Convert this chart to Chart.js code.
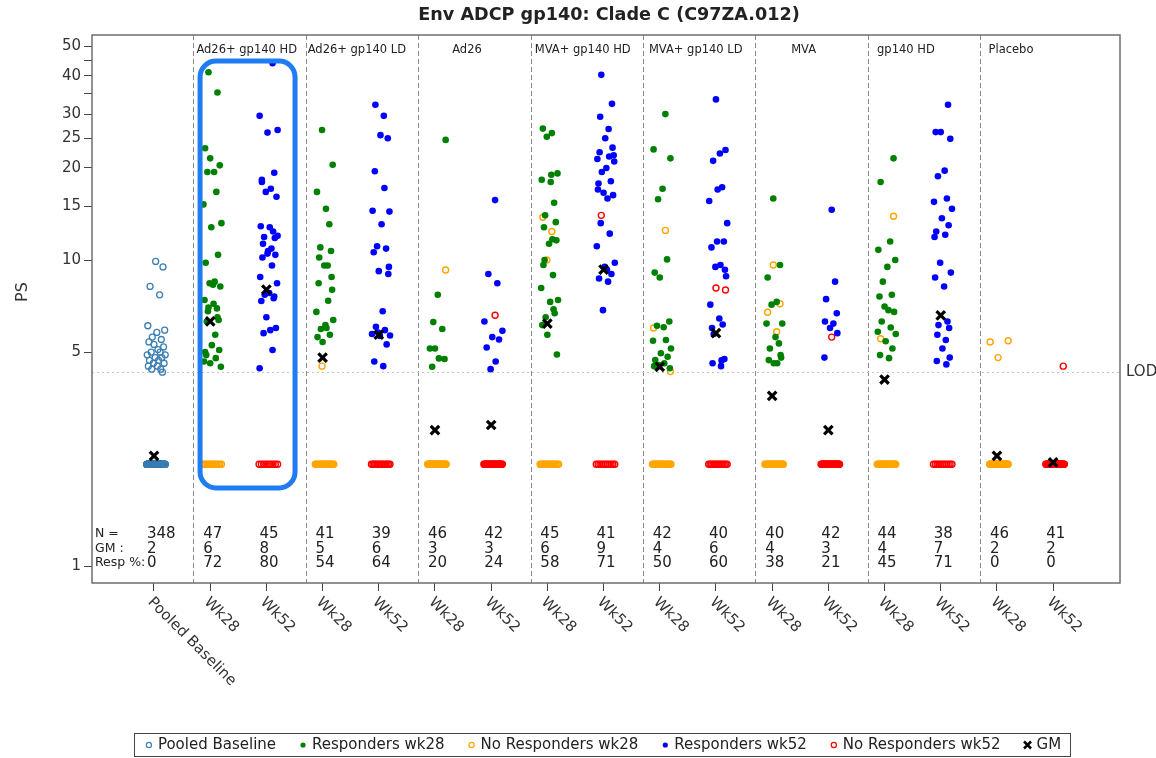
<!DOCTYPE html>
<html>
<head>
<meta charset="utf-8">
<title>Env ADCP gp140: Clade C (C97ZA.012)</title>
<script src="https://cdn.jsdelivr.net/npm/chart.js@4.4.1/dist/chart.umd.min.js"></script>
<style>
	html, body { margin: 0; padding: 0; background: #fff; }
	#wrap { width: 1156px; height: 758px; }
</style>
</head>
<body>
<div id="wrap"><canvas id="chart" width="1156" height="758"></canvas></div>
<script>
// ---- data ----
const categories = ["Pooled Baseline", "Wk28", "Wk52", "Wk28", "Wk52", "Wk28", "Wk52", "Wk28", "Wk52",
	"Wk28", "Wk52", "Wk28", "Wk52", "Wk28", "Wk52", "Wk28", "Wk52"];
const groupNames = ["Ad26+ gp140 HD", "Ad26+ gp140 LD", "Ad26", "MVA+ gp140 HD", "MVA+ gp140 LD", "MVA", "gp140 HD", "Placebo"];

const nValues = [348, 47, 45, 41, 39, 46, 42, 45, 41, 42, 40, 40, 42, 44, 38, 46, 41];
const gmValues = [2, 6, 8, 5, 6, 3, 3, 6, 9, 4, 6, 4, 3, 4, 7, 2, 2];
const respPct = [0, 72, 80, 54, 64, 20, 24, 58, 71, 50, 60, 38, 21, 45, 71, 0, 0];
const gmPoints = [2.29, 6.3, 8.0, 4.8, 5.7, 2.78, 2.89, 6.2, 9.3, 4.48, 5.77, 3.6, 2.78, 4.07, 6.6, 2.29, 2.18];

const LOD = 4.3;
const BELOW_LOD = 2.15;

const yTicks = [1, 5, 10, 15, 20, 25, 30, 35, 40, 45, 50];
const yTickLabels = [1, 5, 10, 15, 20, 25, 30, 40, 50];

const pooledAbove = [9.9, 9.5, 8.2, 7.7, 6.1, 5.9, 5.8, 5.6, 5.5, 5.4, 5.3, 5.2, 5.1, 5.0, 5.0, 4.9,
	4.9, 4.8, 4.8, 4.7, 4.7, 4.6, 4.6, 4.5, 4.5, 4.4, 4.4, 4.3];

const hdWk28 = [41.1, 35.3, 23.2, 21.5, 20.4, 19.4, 19.4, 16.7, 15.2, 13.2, 12.8, 10.4, 9.8, 8.5, 8.4, 8.2, 7.4,
	7.2, 6.95, 6.8, 6.37, 6.3, 5.7, 5.27, 5.08, 4.89, 4.78, 4.66, 4.48, 8.3, 7.0, 6.5, 5.0, 4.6];
const hdWk52 = [44, 29.6, 26.6, 26.1, 19.3, 18.3, 17.1, 16.7, 16.1, 12.9, 12.8, 12.4, 11.9, 11.8, 11.3, 10.9, 10.7,
	10.4, 10.2, 9.6, 8.8, 8.4, 7.8, 7.7, 7.5, 7.35, 6.5, 6.0, 5.9, 5.77, 5.08, 4.43, 12.0, 10.5, 7.6, 18.0];
const ldWk28 = [26.6, 20.5, 16.7, 14.7, 13.1, 11.0, 10.7, 10.2, 9.6, 9.6, 8.8, 8.4, 7.36, 6.77, 6.37, 6.13, 5.95,
	5.7, 5.6, 5.4, 8.0, 6.0];
const ldWk52 = [32.2, 29.6, 25.6, 25.0, 19.5, 17.2, 14.5, 14.4, 13.1, 11.1, 10.9, 10.6, 9.2, 9.0, 6.8, 6.05, 5.9,
	5.73, 5.67, 5.65, 5.3, 4.66, 4.5, 5.8, 9.5];
const ad26Wk28 = [24.7, 7.7, 6.27, 5.95, 5.14, 5.14, 4.75, 4.77, 4.48];
const ad26Wk52 = [15.7, 9.0, 8.4, 6.3, 5.87, 5.6, 5.5, 5.18, 4.66, 4.4];
const mvaHdWk28 = [26.9, 26.0, 25.3, 19.2, 18.3, 18.0, 15.4, 14.0, 13.3, 12.8, 11.7, 11.3, 11.6, 9.64, 8.93, 8.1,
	7.4, 7.3, 6.5, 6.7, 6.13, 5.7, 4.91, 19.0, 10.0, 6.9];
const mvaHdWk52 = [40.3, 32.4, 29.4, 26.8, 25.0, 23.3, 22.5, 21.8, 21.4, 21.0, 20.0, 19.4, 18.1, 17.8, 16.6, 16.3,
	15.9, 13.2, 12.2, 11.1, 9.8, 9.5, 9.0, 8.7, 8.5, 6.86, 22.0, 17.0, 9.3];
const mvaLdWk28 = [30.0, 23.0, 21.5, 17.1, 15.8, 10.05, 9.1, 8.77, 6.3, 6.03, 6.1, 5.48, 5.45, 5.14, 4.96, 4.83,
	4.71, 4.6, 4.54, 4.43, 4.5];
const mvaLdWk52 = [33.5, 22.9, 22.3, 21.1, 17.3, 15.6, 13.2, 11.5, 11.5, 11.0, 9.64, 9.5, 8.85, 7.15, 6.44, 6.16,
	5.73, 4.75, 4.6, 4.5, 17.0, 9.3, 6.0, 4.7];
const mvaWk28 = [15.9, 9.64, 8.77, 7.3, 7.15, 6.2, 6.2, 5.6, 5.34, 5.14, 4.89, 4.71, 4.6, 4.6, 4.8];
const mvaWk52 = [14.6, 8.5, 7.45, 6.7, 6.3, 6.2, 6.0, 5.77, 4.8];
const gpWk28 = [21.5, 18.0, 11.5, 10.8, 10.0, 9.5, 8.5, 7.7, 7.6, 7.05, 6.77, 6.86, 6.3, 6.02, 5.83, 5.73, 5.43,
	5.14, 4.89, 4.78];
const gpWk52 = [32.2, 26.2, 26.2, 24.9, 19.6, 18.8, 15.9, 15.5, 14.7, 13.7, 13.0, 12.4, 12.1, 9.8, 9.1, 8.77, 8.2,
	6.3, 6.13, 6.0, 5.7, 5.48, 5.14, 4.8, 4.68, 4.56, 11.9];

// non-responders that sit above the LOD line, per category
const openAbove = [[], [], [], [4.5], [], [9.28], [6.6], [13.8, 12.4, 10.0], [14.0], [12.5, 6.0, 4.32],
	[8.1, 7.98], [9.64, 7.2, 6.75, 5.83], [5.6], [13.9, 5.53], [], [5.4, 5.45, 4.8], [4.5]];

const responders = [[], hdWk28, hdWk52, ldWk28, ldWk52, ad26Wk28, ad26Wk52, mvaHdWk28, mvaHdWk52,
	mvaLdWk28, mvaLdWk52, mvaWk28, mvaWk52, gpWk28, gpWk52, [], []];

// ---- layout helpers (positions only) ----
const JITTER = [0.03, 0.16, -0.07, 0.1, -0.11, 0.19, 0.05, -0.03, 0.13, -0.09, 0.0, 0.17, 0.07, -0.05, 0.11,
	-0.12, 0.2, 0.02, 0.14, -0.08, 0.08, -0.01, 0.18, -0.1, 0.06, 0.12, -0.04, 0.15, -0.06, 0.09];
const separatorPos = [0.7, 2.7, 4.7, 6.7, 8.7, 10.7, 12.7, 14.7];
const groupLabelPos = [1.65, 3.61, 5.57, 7.63, 9.64, 11.56, 13.38, 15.25];
const FONT = '"DejaVu Sans", Verdana, sans-serif';

function jittered(cat, values) {
	return values.map((v, k) => ({ x: cat + JITTER[(k + cat * 7) % JITTER.length], y: v }));
}

function lowBand(cat, n) {
	// non-responders set to LOD/2, spread as a horizontal band
	return Array.from({ length: n }, (_, k) => ({ x: cat - 0.13 + (n > 1 ? 0.33 * k / (n - 1) : 0), y: BELOW_LOD }));
}

function lowCount(cat) {
	if (cat === 0) return nValues[0] - pooledAbove.length;
	return nValues[cat] - responders[cat].length - openAbove[cat].length;
}

// Build the datasets
const pooledData = jittered(0, pooledAbove).concat(lowBand(0, lowCount(0)));
let resp28 = [], noResp28 = [], resp52 = [], noResp52 = [];
for (let c = 1; c < categories.length; c++) {
	const resp = jittered(c, responders[c]);
	const noResp = jittered(c, openAbove[c]).concat(lowBand(c, lowCount(c)));
	if (c % 2 === 1) {
		resp28 = resp28.concat(resp);
		noResp28 = noResp28.concat(noResp);
	} else {
		resp52 = resp52.concat(resp);
		noResp52 = noResp52.concat(noResp);
	}
}
const gmData = gmPoints.map((v, i) => ({ x: i, y: v }));

function roundRect(ctx, x, y, w, h, r) {
	ctx.beginPath();
	ctx.moveTo(x + r, y);
	ctx.arcTo(x + w, y, x + w, y + h, r);
	ctx.arcTo(x + w, y + h, x, y + h, r);
	ctx.arcTo(x, y + h, x, y, r);
	ctx.arcTo(x, y, x + w, y, r);
	ctx.closePath();
}

function drawMarker(ctx, ds, cx, cy) {
	ctx.save();
	ctx.setLineDash([]);
	if (ds.pointStyle === "crossRot") {
		const r = 3.5;
		ctx.strokeStyle = ds.borderColor;
		ctx.lineWidth = 2.5;
		ctx.beginPath();
		ctx.moveTo(cx - r, cy - r); ctx.lineTo(cx + r, cy + r);
		ctx.moveTo(cx + r, cy - r); ctx.lineTo(cx - r, cy + r);
		ctx.stroke();
	} else {
		ctx.beginPath();
		ctx.arc(cx, cy, 2.6, 0, Math.PI * 2);
		if (ds.hollow) {
			ctx.strokeStyle = ds.borderColor;
			ctx.lineWidth = 1.2;
			ctx.stroke();
		} else {
			ctx.fillStyle = ds.backgroundColor;
			ctx.fill();
		}
	}
	ctx.restore();
}

const decorPlugin = {
	id: "decor",
	beforeDatasetsDraw(chart) {
		const { ctx, chartArea: a, scales: { x, y } } = chart;
		ctx.save();
		// group separators
		ctx.strokeStyle = "#8a8a8a";
		ctx.lineWidth = 1;
		ctx.setLineDash([5, 3]);
		separatorPos.forEach(v => {
			const px = Math.round(x.getPixelForValue(v)) + 0.5;
			ctx.beginPath();
			ctx.moveTo(px, a.top);
			ctx.lineTo(px, a.bottom);
			ctx.stroke();
		});
		// LOD line
		ctx.strokeStyle = "#c4c4c4";
		ctx.setLineDash([2, 3]);
		const ly = Math.round(y.getPixelForValue(LOD)) + 0.5;
		ctx.beginPath();
		ctx.moveTo(a.left, ly);
		ctx.lineTo(a.right, ly);
		ctx.stroke();
		ctx.restore();
	},
	afterDatasetsDraw(chart) {
		const { ctx, chartArea: a, scales: { x, y } } = chart;
		ctx.save();
		// frame
		ctx.strokeStyle = "#6e6e6e";
		ctx.lineWidth = 1.5;
		ctx.strokeRect(a.left, a.top, a.right - a.left, a.bottom - a.top);
		// highlight box around the first group
		const bx0 = x.getPixelForValue(0.82), bx1 = x.getPixelForValue(2.51);
		const by0 = y.getPixelForValue(44.7), by1 = y.getPixelForValue(1.8);
		ctx.strokeStyle = "#1f7cf2";
		ctx.lineWidth = 5;
		roundRect(ctx, bx0, by0, bx1 - bx0, by1 - by0, 16);
		ctx.stroke();
		ctx.restore();
	},
	afterDraw(chart) {
		const { ctx, chartArea: a, scales: { x, y } } = chart;
		ctx.save();
		ctx.fillStyle = "#222";

		// title
		ctx.font = "bold 17.6px " + FONT;
		ctx.textAlign = "center";
		ctx.textBaseline = "middle";
		ctx.fillText("Env ADCP gp140: Clade C (C97ZA.012)", (a.left + a.right) / 2 + 3, 15);

		// y axis title
		ctx.save();
		ctx.translate(23, 292);
		ctx.rotate(-Math.PI / 2);
		ctx.font = "16px " + FONT;
		ctx.fillStyle = "#333";
		ctx.fillText("PS", 0, 0);
		ctx.restore();

		// group labels
		ctx.font = "11.5px " + FONT;
		groupNames.forEach((g, i) => {
			ctx.fillText(g, x.getPixelForValue(groupLabelPos[i]), a.top + 15);
		});

		// LOD label
		ctx.textAlign = "left";
		ctx.font = "15px " + FONT;
		ctx.fillStyle = "#333";
		ctx.fillText("LOD", a.right + 6, Math.round(y.getPixelForValue(LOD)));

		// stats rows
		const rows = [a.bottom - 49, a.bottom - 34, a.bottom - 20];
		ctx.fillStyle = "#222";
		ctx.font = "12.5px " + FONT;
		["N =", "GM :", "Resp %:"].forEach((t, r) => ctx.fillText(t, a.left + 3, rows[r]));
		ctx.font = "15px " + FONT;
		categories.forEach((_, i) => {
			const px = x.getPixelForValue(i) - 7;
			ctx.fillText(String(nValues[i]), px, rows[0]);
			ctx.fillText(String(gmValues[i]), px, rows[1]);
			ctx.fillText(String(respPct[i]), px, rows[2]);
		});

		// rotated category labels
		ctx.fillStyle = "#333";
		ctx.font = "15px " + FONT;
		categories.forEach((c, i) => {
			ctx.save();
			ctx.translate(x.getPixelForValue(i) - 4, a.bottom + 17);
			ctx.rotate(Math.PI / 4);
			ctx.fillText(c, 0, 0);
			ctx.restore();
		});

		// legend
		const sets = chart.data.datasets;
		ctx.font = "15px " + FONT;
		const gapText = 9, gapItem = 27;
		const widths = sets.map(ds => ctx.measureText(ds.label).width);
		const total = widths.reduce((s, w) => s + gapText + w, 0) + gapItem * (sets.length - 1);
		let lx = 605 - total / 2;
		const legY = 745;
		const boxL = lx - 15;
		sets.forEach((ds, i) => {
			drawMarker(ctx, ds, lx, legY);
			ctx.fillStyle = "#222";
			ctx.fillText(ds.label, lx + gapText, legY);
			lx += gapText + widths[i] + gapItem;
		});
		const boxR = lx - gapItem + 9;
		ctx.strokeStyle = "#444";
		ctx.lineWidth = 1;
		ctx.strokeRect(Math.round(boxL) + 0.5, 733.5, Math.round(boxR - boxL), 23);
		ctx.restore();
	}
};

const ctx = document.getElementById("chart").getContext("2d");
new Chart(ctx, {
	type: "scatter",
	data: {
		datasets: [
			{
				label: "Pooled Baseline", data: pooledData, hollow: true,
				pointStyle: "circle", pointRadius: 3, borderWidth: 1.3,
				borderColor: "#3b7fb3", backgroundColor: "rgba(255,255,255,0)"
			},
			{
				label: "Responders wk28", data: resp28, hollow: false,
				pointStyle: "circle", pointRadius: 3.3, borderWidth: 0,
				borderColor: "#008000", backgroundColor: "#008000"
			},
			{
				label: "No Responders wk28", data: noResp28, hollow: true,
				pointStyle: "circle", pointRadius: 3, borderWidth: 1.4,
				borderColor: "#ffa500", backgroundColor: "rgba(255,255,255,0)"
			},
			{
				label: "Responders wk52", data: resp52, hollow: false,
				pointStyle: "circle", pointRadius: 3.3, borderWidth: 0,
				borderColor: "#0000ff", backgroundColor: "#0000ff"
			},
			{
				label: "No Responders wk52", data: noResp52, hollow: true,
				pointStyle: "circle", pointRadius: 3, borderWidth: 1.4,
				borderColor: "#ff0000", backgroundColor: "rgba(255,255,255,0)"
			},
			{
				label: "GM", data: gmData, hollow: false, order: -1,
				pointStyle: "crossRot", pointRadius: 6, borderWidth: 3.2,
				borderColor: "#000", backgroundColor: "#000"
			}
		]
	},
	options: {
		responsive: false,
		animation: false,
		events: [],
		layout: { padding: { top: 35, right: 36, left: 0, bottom: 0 } },
		scales: {
			x: {
				type: "linear",
				min: -1.103,
				max: 17.19,
				afterBuildTicks: s => { s.ticks = categories.map((_, i) => ({ value: i })); },
				afterFit: s => { s.height = 175; },
				ticks: { display: false },
				grid: { drawOnChartArea: false, drawTicks: true, tickLength: 8, color: "#444" },
				border: { display: false }
			},
			y: {
				type: "logarithmic",
				min: 0.88,
				max: 54.4,
				afterBuildTicks: s => { s.ticks = yTicks.map(v => ({ value: v })); },
				afterFit: s => { s.width = 92; },
				ticks: {
					autoSkip: false,
					padding: 3,
					color: "#333",
					font: { family: FONT, size: 15 },
					callback: v => (yTickLabels.includes(v) ? String(v) : "")
				},
				grid: { drawOnChartArea: false, drawTicks: true, tickLength: 8, color: "#444" },
				border: { display: false }
			}
		},
		plugins: {
			legend: { display: false },
			title: { display: false },
			tooltip: { enabled: false }
		}
	},
	plugins: [decorPlugin]
});
</script>
</body>
</html>
